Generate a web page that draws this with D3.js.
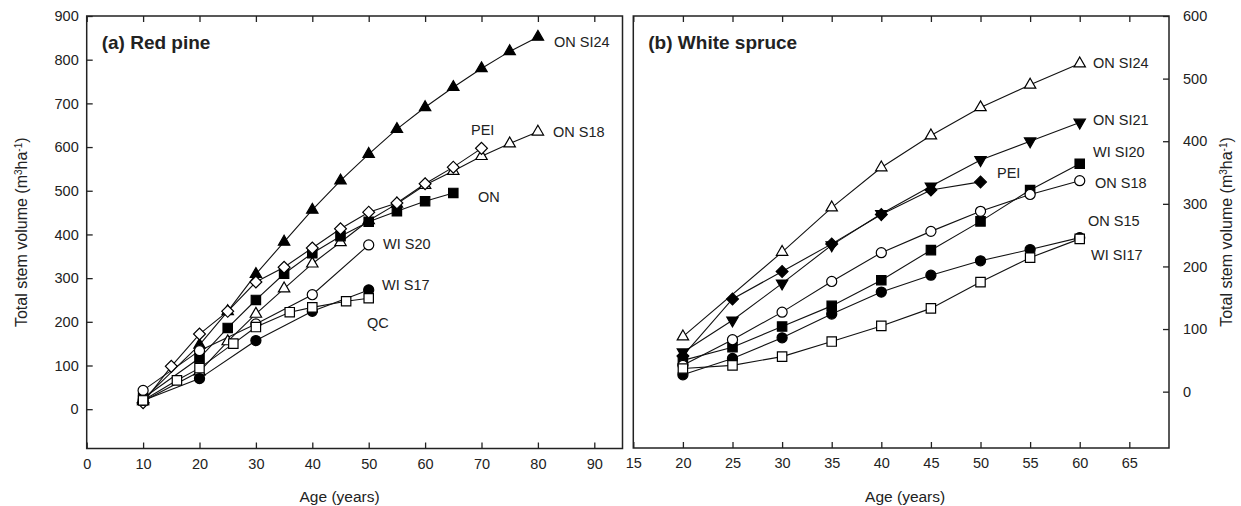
<!DOCTYPE html>
<html>
<head>
<meta charset="utf-8">
<script src="https://cdn.jsdelivr.net/npm/d3@7"></script>
<style>
  body { margin: 0; background: #fff; }
  svg text { font-family: "Liberation Sans", Arial, sans-serif; fill: #222; }
</style>
</head>
<body>
<script>
// (a) Red pine
var rpSI24Age = [10, 20, 25, 30, 35, 40, 45, 50, 55, 60, 65, 70, 75, 80],
  rpSI24Vol = [22, 147, 224, 309, 383, 456, 523, 584, 641, 691, 737, 780, 819, 852],
  rpS18Age = [10, 20, 25, 30, 35, 40, 45, 50, 55, 60, 65, 70, 75, 80],
  rpS18Vol = [18, 86, 155, 218, 276, 333, 382, 432, 470, 513, 545, 579, 608, 635],
  rpONAge = [10, 20, 25, 30, 35, 40, 45, 50, 55, 60, 65],
  rpONVol = [25, 117, 186, 250, 310, 357, 396, 429, 453, 476, 495],
  rpPEIAge = [10, 15, 20, 25, 30, 35, 40, 45, 50, 55, 60, 65, 70],
  rpPEIVol = [15, 98, 172, 224, 291, 325, 369, 413, 451, 472, 516, 554, 597],
  rpWI20Age = [10, 20, 30, 40, 50],
  rpWI20Vol = [43, 134, 195, 262, 376],
  rpWI17Age = [10, 20, 30, 40, 50],
  rpWI17Vol = [20, 70, 157, 224, 273],
  rpQCAge = [10, 16, 20, 26, 30, 36, 40, 46, 50],
  rpQCVol = [20, 66, 94, 150, 188, 222, 233, 247, 254];

// (b) White spruce
var wsSI24Age = [20, 30, 35, 40, 45, 50, 55, 60],
  wsSI24Vol = [88, 223, 294, 358, 409, 454, 490, 524],
  wsSI21Age = [20, 25, 30, 35, 40, 45, 50, 55, 60],
  wsSI21Vol = [63, 114, 173, 234, 284, 328, 370, 400, 430],
  wsPEIAge = [20, 25, 30, 35, 40, 45, 50],
  wsPEIVol = [57, 148, 192, 236, 283, 322, 335],
  wsWI20Age = [20, 25, 30, 35, 40, 45, 50, 55, 60],
  wsWI20Vol = [50, 71, 104, 137, 178, 226, 272, 322, 364],
  wsS18Age = [20, 25, 30, 35, 40, 45, 50, 55, 60],
  wsS18Vol = [42, 83, 127, 176, 222, 256, 288, 315, 337],
  wsS15Age = [20, 25, 30, 35, 40, 45, 50, 55, 60],
  wsS15Vol = [27, 53, 86, 124, 159, 186, 209, 227, 246],
  wsWI17Age = [20, 25, 30, 35, 40, 45, 50, 55, 60],
  wsWI17Vol = [37, 42, 56, 80, 105, 133, 175, 214, 244];

var rpXTicks = [0, 10, 20, 30, 40, 50, 60, 70, 80, 90],
  rpYTicks = [0, 100, 200, 300, 400, 500, 600, 700, 800, 900],
  wsXTicks = [15, 20, 25, 30, 35, 40, 45, 50, 55, 60, 65],
  wsYTicks = [0, 100, 200, 300, 400, 500, 600];

function zip(a, v) { return a.map(function (d, i) { return [d, v[i]]; }); }

var svg = d3.select("body").append("svg").attr("width", 1241).attr("height", 506);

// marker shapes: [symbol, size, rotation]
var shapes = {
  triUp: [d3.symbolTriangle, 56, 0],
  triDown: [d3.symbolTriangle, 56, 180],
  circle: [d3.symbolCircle, 80, 0],
  square: [d3.symbolSquare, 88, 0],
  diamond: [d3.symbolSquare, 70, 45]
};

function panel(o) {
  var x = d3.scaleLinear().domain(o.xDom).range([o.left, o.right]),
    y = d3.scaleLinear().domain(o.yDom).range([o.bottom, o.top]),
    g = svg.append("g");

  var line = d3.line().x(function (d) { return x(d[0]); }).y(function (d) { return y(d[1]); });

  o.series.forEach(function (s) {
    g.append("path").datum(s.pts).attr("d", line)
      .attr("fill", "none").attr("stroke", "#111").attr("stroke-width", 1.1);
  });
  o.series.forEach(function (s) {
    var sh = shapes[s.shape];
    g.selectAll(null).data(s.pts).enter().append("path")
      .attr("d", d3.symbol().type(sh[0]).size(sh[1]))
      .attr("transform", function (d) {
        return "translate(" + x(d[0]) + "," + y(d[1]) + ") rotate(" + sh[2] + ")";
      })
      .attr("fill", s.filled ? "#000" : "#fff")
      .attr("stroke", "#000").attr("stroke-width", 1.2);
  });

  // axes, ticks inward
  var ax = g.append("g").attr("class", "axes");
  var bot = d3.axisBottom(x).tickValues(o.xTicks).tickSize(-6).tickPadding(10);
  ax.append("g").attr("transform", "translate(0," + o.bottom + ")").call(bot);
  var top = d3.axisTop(x).tickValues(o.xTicks).tickSize(-6).tickFormat("");
  ax.append("g").attr("transform", "translate(0," + o.top + ")").call(top);
  var yAx = o.yRight ? d3.axisRight(y) : d3.axisLeft(y);
  yAx.tickValues(o.yTicks).tickSize(-6).tickPadding(o.yRight ? 14 : 8);
  ax.append("g").attr("transform", "translate(" + (o.yRight ? o.right : o.left) + ",0)").call(yAx);
  ax.selectAll(".domain").remove();
  ax.selectAll(".tick line").attr("stroke", "#222").attr("stroke-width", 1.3);
  ax.selectAll(".tick text").style("font-size", "14.5px").style("font-family", "'Liberation Sans', Arial, sans-serif").attr("fill", "#222");

  g.append("rect").attr("x", o.left).attr("y", o.top)
    .attr("width", o.right - o.left).attr("height", o.bottom - o.top)
    .attr("fill", "none").attr("stroke", "#222").attr("stroke-width", 1.5);

  g.append("text").attr("x", o.left + 15).attr("y", o.top + 33)
    .style("font-size", "19px").style("font-weight", "bold").attr("fill", "#000")
    .text(o.title);

  o.labels.forEach(function (l) {
    g.append("text").attr("x", l[1]).attr("y", l[2]).attr("dy", "0.35em")
      .style("font-size", "14.5px").text(l[0]);
  });

  g.append("text").attr("x", (o.left + o.right) / 2 + o.xTitleShift).attr("y", 497).attr("dy", "0.35em")
    .attr("text-anchor", "middle").style("font-size", "15.5px").text("Age (years)");

  var yt = g.append("text")
    .attr("transform", "translate(" + o.yTitleX + "," + ((o.top + o.bottom) / 2) + ") rotate(-90)")
    .attr("text-anchor", "middle").attr("dy", "0.35em").style("font-size", "16px");
  yt.append("tspan").text("Total stem volume (m");
  yt.append("tspan").attr("baseline-shift", "super").style("font-size", "10px").text("3");
  yt.append("tspan").text("ha");
  yt.append("tspan").attr("baseline-shift", "super").style("font-size", "10px").text("-1");
  yt.append("tspan").text(")");
}

panel({
  left: 86.7, right: 622.5, top: 16, bottom: 448.5,
  xDom: [0, 95], yDom: [-90, 900],
  xTicks: rpXTicks, yTicks: rpYTicks, yRight: false,
  title: "(a) Red pine", xTitleShift: -15, yTitleX: 21,
  series: [
    { pts: zip(rpSI24Age, rpSI24Vol), shape: "triUp", filled: true },
    { pts: zip(rpS18Age, rpS18Vol), shape: "triUp", filled: false },
    { pts: zip(rpONAge, rpONVol), shape: "square", filled: true },
    { pts: zip(rpPEIAge, rpPEIVol), shape: "diamond", filled: false },
    { pts: zip(rpWI20Age, rpWI20Vol), shape: "circle", filled: false },
    { pts: zip(rpWI17Age, rpWI17Vol), shape: "circle", filled: true },
    { pts: zip(rpQCAge, rpQCVol), shape: "square", filled: false }
  ],
  labels: [["ON SI24", 554, 42], ["PEI", 471, 130], ["ON S18", 553, 132], ["ON", 478, 197],
    ["WI S20", 383, 244], ["WI S17", 382, 285], ["QC", 367, 323]]
});

panel({
  left: 633.3, right: 1169, top: 16, bottom: 448,
  xDom: [15, 69], yDom: [-90, 600],
  xTicks: wsXTicks, yTicks: wsYTicks, yRight: true,
  title: "(b) White spruce", xTitleShift: 4, yTitleX: 1226,
  series: [
    { pts: zip(wsSI24Age, wsSI24Vol), shape: "triUp", filled: false },
    { pts: zip(wsSI21Age, wsSI21Vol), shape: "triDown", filled: true },
    { pts: zip(wsPEIAge, wsPEIVol), shape: "diamond", filled: true },
    { pts: zip(wsWI20Age, wsWI20Vol), shape: "square", filled: true },
    { pts: zip(wsS18Age, wsS18Vol), shape: "circle", filled: false },
    { pts: zip(wsS15Age, wsS15Vol), shape: "circle", filled: true },
    { pts: zip(wsWI17Age, wsWI17Vol), shape: "square", filled: false }
  ],
  labels: [["ON SI24", 1093, 63], ["ON SI21", 1093, 120], ["WI SI20", 1093, 152], ["PEI", 997, 173],
    ["ON S18", 1095, 183], ["ON S15", 1088, 221], ["WI SI17", 1091, 255]]
});
</script>
</body>
</html>
